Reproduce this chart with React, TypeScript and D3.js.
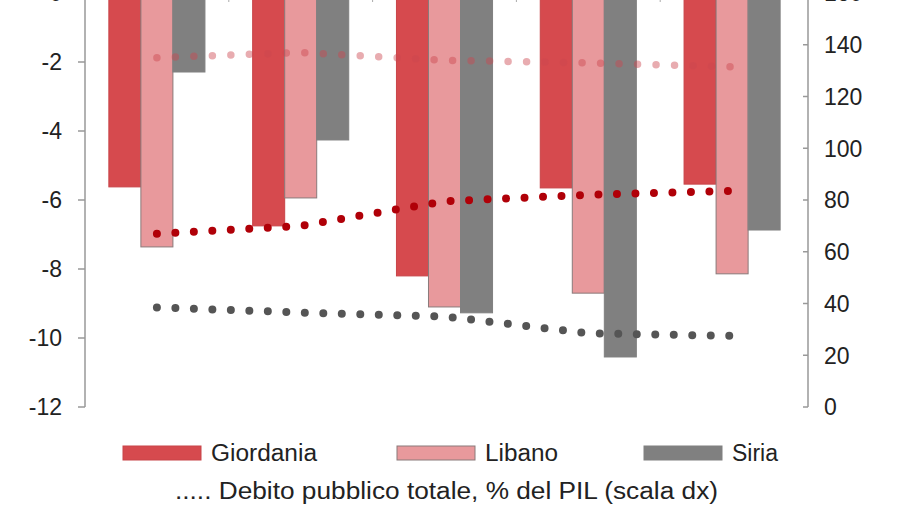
import React from "react";
import * as d3 from "d3";

const categories = ["2010", "2011", "2012", "2013", "2014"];
const seriesNames = ["Giordania", "Libano", "Siria"];
const giordania = [-5.62, -6.75, -8.2, -5.65, -5.54];
const libano = [-7.36, -5.94, -9.1, -8.7, -8.14];
const siria = [-2.29, -4.26, -9.27, -10.55, -6.87];
const debtGiordania = [67, 70, 79.5, 82, 83.5];
const debtLibano = [135, 137, 134, 133, 131.5];
const debtSiria = [38.5, 36.5, 35, 28.5, 27.5];
const leftTicks = [0, -2, -4, -6, -8, -10, -12];
const rightTicks = [0, 20, 40, 60, 80, 100, 120, 140, 160];
const legendNote = "..... Debito pubblico totale, % del PIL (scala dx)";

const barColors = ["#d64a4e", "#e8999c", "#808080"];
const barStrokes = ["#c84448", "#8a7a7a", "#808080"];
const lineColors = ["#b00008", "rgba(205,70,80,0.45)", "#555555"];
const lineWidths = [8, 7.5, 8];
const legendWidths = [106, 73, 46];

export default function App() {
  const W = 920, H = 510;
  const xL = 85, xR = 808;
  const yTop = -7, yBot = 407;
  const x0 = d3.scaleBand<string>().domain(categories).range([85, 804]).paddingInner(0).paddingOuter(0);
  const x1 = d3.scaleBand<string>().domain(seriesNames).range([0, x0.step()]).paddingInner(0).paddingOuter(0.745);
  const yL = d3.scaleLinear().domain([-12, 0]).range([yBot, yTop]);
  const yR = d3.scaleLinear().domain([0, 160]).range([yBot, yTop]);
  const barData = [giordania, libano, siria];
  const debtData = [debtGiordania, debtLibano, debtSiria];
  const line = d3.line<number>()
    .x((_, i) => (x0(categories[i]) as number) + x0.bandwidth() / 2)
    .y((d) => yR(d));
  const font = "'Liberation Sans', Arial, sans-serif";
  const legendItems = [
    { name: seriesNames[0], sx: 123, i: 0 },
    { name: seriesNames[1], sx: 397, i: 1 },
    { name: seriesNames[2], sx: 644, i: 2 },
  ];
  return (
    <div style={{ position: "fixed", left: 0, top: 0, width: W, height: H, background: "#fff" }}>
      <svg width={W} height={H} style={{ display: "block", fontFamily: font }}>
        <rect width={W} height={H} fill="#fff" />
        {barData.map((vals, s) =>
          vals.map((v, i) => {
            const bx = (x0(categories[i]) as number) + (x1(seriesNames[s]) as number);
            const y0 = yL(0), y1 = yL(v);
            return (
              <rect key={`b${s}-${i}`} x={bx} y={Math.min(y0, y1)} width={x1.bandwidth()}
                height={Math.abs(y1 - y0)} fill={barColors[s]} stroke={barStrokes[s]} strokeWidth={1} />
            );
          })
        )}
        {categories.slice(1).map((c) => {
          const tx = x0(c) as number;
          return <line key={`xt${c}`} x1={tx} x2={tx} y1={yL(0)} y2={yL(0) + 9} stroke="#aaa" strokeWidth={1} />;
        })}
        {debtData.map((vals, s) => (
          <path key={`l${s}`} d={line(vals) as string} fill="none" stroke={lineColors[s]}
            strokeWidth={lineWidths[s]} strokeLinecap="round" strokeDasharray="0 18.5" />
        ))}
        <line x1={xL} x2={xL} y1={yTop} y2={yBot} stroke="#999" strokeWidth={1.5} />
        {leftTicks.map((t) => (
          <g key={`lt${t}`}>
            <line x1={xL - 7} x2={xL} y1={yL(t)} y2={yL(t)} stroke="#999" strokeWidth={1.5} />
            <text x={62} y={yL(t)} dy="0.36em" textAnchor="end" fontSize={23} fill="#222">{t === 0 ? "0" : `-${Math.abs(t)}`}</text>
          </g>
        ))}
        <line x1={xR} x2={xR} y1={yTop} y2={yBot} stroke="#999" strokeWidth={1.5} />
        {rightTicks.map((t) => (
          <g key={`rt${t}`}>
            <line x1={xR - 5} x2={xR} y1={yR(t)} y2={yR(t)} stroke="#999" strokeWidth={1.5} />
            <text x={824} y={yR(t)} dy="0.36em" textAnchor="start" fontSize={23} fill="#222">{t}</text>
          </g>
        ))}
        {legendItems.map((it) => (
          <g key={`lg${it.i}`}>
            <rect x={it.sx} y={446} width={78} height={14} fill={barColors[it.i]} stroke={barStrokes[it.i]} strokeWidth={1} />
            <text x={it.sx + 88} y={461} fontSize={23.5} fill="#222" textLength={legendWidths[it.i]} lengthAdjust="spacingAndGlyphs">{it.name}</text>
          </g>
        ))}
        <text x={175} y={499} fontSize={23.5} fill="#222" textLength={543} lengthAdjust="spacingAndGlyphs">{legendNote}</text>
      </svg>
    </div>
  );
}
